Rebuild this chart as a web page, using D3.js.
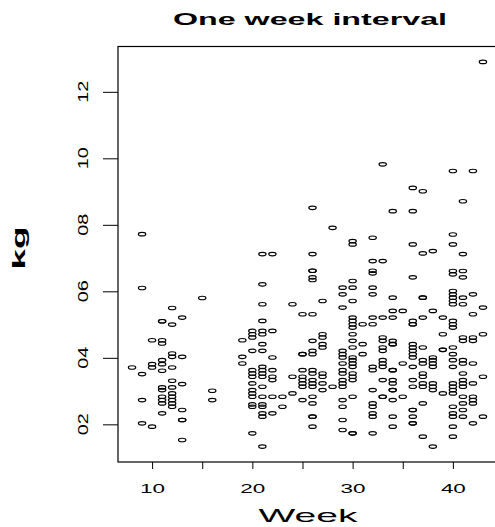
<!DOCTYPE html>
<html>
<head>
<meta charset="utf-8">
<script src="https://cdn.jsdelivr.net/npm/d3@7"></script>
<style>
  html, body { margin: 0; padding: 0; background: #fff; }
  svg { display: block; }
  text { font-family: "Liberation Sans", Arial, sans-serif; fill: #000; }
</style>
</head>
<body>
<svg id="chart" width="495" height="527"></svg>
<script>
// ---- data ----
const title = "One week interval";
const xLabel = "Week";
const yLabel = "kg";
const xTicks = [10, 15, 20, 25, 30, 35, 40];
const xTickLabels = ["10", "", "20", "", "30", "", "40"];
const yTicks = [2, 4, 6, 8, 10, 12];
const yTickLabels = ["02", "04", "06", "08", "10", "12"];

const week = [
  8,
  9, 9, 9, 9, 9,
  10, 10, 10, 10,
  11, 11, 11, 11, 11, 11, 11, 11, 11, 11, 11, 11, 11,
  12, 12, 12, 12, 12, 12, 12, 12, 12, 12, 12, 12,
  13, 13, 13, 13, 13, 13, 13,
  15,
  16, 16,
  19, 19, 19,
  20, 20, 20, 20, 20, 20, 20, 20, 20, 20, 20, 20, 20, 20,
  21, 21, 21, 21, 21, 21, 21, 21, 21, 21, 21, 21, 21, 21, 21, 21, 21, 21, 21,
  22, 22, 22, 22, 22, 22, 22, 22,
  23, 23,
  24, 24, 24,
  25, 25, 25, 25, 25, 25, 25, 25, 25,
  26, 26, 26, 26, 26, 26, 26, 26, 26, 26, 26, 26, 26, 26, 26, 26, 26, 26, 26, 26,
  27, 27, 27, 27, 27, 27, 27, 27, 27,
  28, 28,
  29, 29, 29, 29, 29, 29, 29, 29, 29, 29, 29, 29, 29, 29, 29, 29,
  30, 30, 30, 30, 30, 30, 30, 30, 30, 30, 30, 30, 30, 30, 30, 30, 30, 30, 30, 30, 30, 30,
  31, 31, 31,
  32, 32, 32, 32, 32, 32, 32, 32, 32, 32, 32, 32, 32, 32, 32, 32,
  33, 33, 33, 33, 33, 33, 33, 33, 33, 33, 33, 33, 33,
  34, 34, 34, 34, 34, 34, 34, 34, 34, 34, 34, 34, 34, 34, 34, 34,
  35, 35, 35,
  36, 36, 36, 36, 36, 36, 36, 36, 36, 36, 36, 36, 36, 36, 36, 36, 36, 36, 36, 36,
  37, 37, 37, 37, 37, 37, 37, 37, 37, 37, 37, 37, 37, 37,
  38, 38, 38, 38, 38, 38, 38, 38, 38, 38,
  39, 39, 39, 39, 39,
  40, 40, 40, 40, 40, 40, 40, 40, 40, 40, 40, 40, 40, 40, 40, 40, 40, 40, 40, 40, 40, 40, 40, 40, 40, 40,
  41, 41, 41, 41, 41, 41, 41, 41, 41, 41, 41, 41, 41, 41, 41, 41, 41, 41,
  42, 42, 42, 42, 42, 42, 42, 42, 42, 42, 42,
  43, 43, 43, 43, 43
];

const kg = [
  3.71,
  7.72, 6.10, 3.51, 2.73, 2.03,
  4.53, 3.81, 3.71, 1.93,
  5.10, 5.10, 4.53, 4.43, 3.93, 3.81, 3.61, 3.11, 3.03, 2.83, 2.73, 2.63, 2.33,
  5.50, 5.00, 4.13, 4.03, 3.71, 3.31, 3.11, 2.93, 2.83, 2.73, 2.63, 2.53,
  5.21, 4.03, 3.21, 2.43, 2.13, 2.13, 1.53,
  5.80,
  3.01, 2.73,
  4.53, 4.03, 3.83,
  4.81, 4.71, 4.61, 4.21, 3.63, 3.53, 3.43, 3.23, 3.03, 2.93, 2.83, 2.60, 2.53, 1.73,
  7.12, 6.21, 5.61, 5.11, 4.81, 4.71, 4.41, 4.21, 3.73, 3.63, 3.53, 3.43, 3.13, 2.83, 2.60, 2.53, 2.33, 2.23, 1.33,
  7.12, 4.81, 4.01, 3.63, 3.43, 3.33, 2.83, 2.33,
  2.83, 2.53,
  5.61, 3.43, 2.93,
  5.31, 4.11, 4.11, 3.63, 3.43, 3.33, 3.23, 3.13, 2.73,
  8.51, 7.12, 6.62, 6.62, 6.42, 6.34, 5.31, 4.51, 4.21, 4.11, 3.63, 3.53, 3.33, 3.23, 3.13, 2.83, 2.63, 2.23, 2.23, 1.93,
  5.71, 4.71, 4.61, 4.41, 4.31, 3.53, 3.43, 3.23, 3.03,
  7.91, 3.13,
  6.11, 5.91, 5.51, 4.21, 4.11, 4.01, 3.83, 3.63, 3.53, 3.33, 3.23, 3.13, 2.73, 2.53, 2.13, 1.83,
  7.51, 7.41, 6.31, 6.11, 5.71, 5.21, 5.11, 5.01, 4.91, 4.71, 4.51, 4.31, 4.01, 3.93, 3.83, 3.73, 3.53, 3.43, 3.33, 2.83, 1.73, 1.73,
  5.01, 4.41, 4.11,
  7.61, 6.91, 6.62, 6.54, 6.11, 5.91, 5.21, 5.01, 3.73, 3.63, 3.03, 2.63, 2.53, 2.33, 2.23, 1.73,
  9.82, 6.91, 5.21, 4.61, 4.51, 4.31, 4.21, 3.93, 3.83, 3.73, 3.33, 2.83, 2.83,
  8.41, 5.81, 5.41, 5.21, 4.51, 4.41, 4.41, 3.63, 3.63, 3.33, 3.23, 3.03, 3.03, 2.73, 2.23, 1.93,
  5.41, 3.83, 2.83,
  9.11, 8.41, 7.41, 6.42, 5.11, 5.01, 5.01, 4.41, 4.31, 4.21, 4.11, 4.01, 3.73, 3.33, 3.13, 2.43, 2.43, 2.23, 2.03, 2.03,
  9.01, 7.14, 5.81, 5.81, 5.21, 4.31, 3.93, 3.83, 3.53, 3.43, 3.23, 3.13, 2.63, 1.63,
  7.21, 5.41, 4.01, 3.93, 3.83, 3.73, 3.23, 3.13, 3.03, 1.33,
  5.21, 4.71, 4.24, 4.24, 2.93,
  9.62, 7.71, 7.41, 6.61, 6.51, 6.01, 5.91, 5.81, 5.71, 5.61, 5.11, 5.01, 4.91, 4.31, 4.11, 3.93, 3.73, 3.23, 3.13, 3.03, 2.93, 2.53, 2.33, 2.23, 1.93, 1.63,
  8.71, 7.12, 6.61, 6.42, 5.81, 5.61, 4.61, 4.51, 3.93, 3.83, 3.53, 3.33, 3.23, 3.13, 2.83, 2.63, 2.43, 2.23,
  9.62, 5.91, 5.31, 4.61, 4.51, 3.83, 3.23, 2.83, 2.73, 2.63, 2.03,
  12.90, 5.51, 4.71, 3.43, 2.23
];

// ---- layout ----
const svg = d3.select("#chart");
const plot = { left: 118, right: 497, top: 46.5, bottom: 462 };

// R-style 4% range extension
function rExtend(ext) {
  const d = (ext[1] - ext[0]) * 0.04;
  return [ext[0] - d, ext[1] + d];
}

const x = d3.scaleLinear().domain(rExtend(d3.extent(week))).range([plot.left, plot.right]);
const y = d3.scaleLinear().domain(rExtend(d3.extent(kg))).range([plot.bottom, plot.top]);

const pts = week.map((w, i) => ({ w, k: kg[i] }));

// points (open circles, drawn stretched like the reference)
svg.append("g")
  .selectAll("ellipse")
  .data(pts)
  .join("ellipse")
  .attr("cx", d => x(d.w))
  .attr("cy", d => y(d.k))
  .attr("rx", 3.7)
  .attr("ry", 1.75)
  .attr("fill", "none")
  .attr("stroke", "#000")
  .attr("stroke-width", 1.15);

// box
svg.append("rect")
  .attr("x", plot.left).attr("y", plot.top)
  .attr("width", plot.right - plot.left).attr("height", plot.bottom - plot.top)
  .attr("fill", "none").attr("stroke", "#000").attr("stroke-width", 1.2);

// x axis
const xAxis = d3.axisBottom(x).tickValues(xTicks).tickSize(7).tickSizeOuter(0)
  .tickFormat((d, i) => xTickLabels[i]);
const gx = svg.append("g").attr("transform", `translate(0,${plot.bottom})`).call(xAxis);
gx.select(".domain").remove();
gx.selectAll(".tick line").attr("stroke", "#000").attr("stroke-width", 1);
gx.selectAll(".tick text")
  .attr("y", 31).attr("dy", 0)
  .style("font-size", "12px")
  .attr("textLength", d => xTickLabels[xTicks.indexOf(d)] ? 25 : null)
  .attr("lengthAdjust", "spacingAndGlyphs");

// y axis
const yAxis = d3.axisLeft(y).tickValues(yTicks).tickSize(15).tickSizeOuter(0).tickFormat("");
const gy = svg.append("g").attr("transform", `translate(${plot.left},0)`).call(yAxis);
gy.select(".domain").remove();
gy.selectAll(".tick line").attr("stroke", "#000").attr("stroke-width", 1);

svg.append("g")
  .selectAll("text")
  .data(yTicks)
  .join("text")
  .attr("transform", d => `translate(88,${y(d)}) rotate(-90)`)
  .attr("text-anchor", "middle")
  .style("font-size", "15px")
  .attr("textLength", 22)
  .attr("lengthAdjust", "spacingAndGlyphs")
  .text((d, i) => yTickLabels[i]);

// title
svg.append("text")
  .attr("x", 310).attr("y", 25)
  .attr("text-anchor", "middle")
  .style("font-size", "16px").style("font-weight", "bold")
  .attr("textLength", 274).attr("lengthAdjust", "spacingAndGlyphs")
  .text(title);

// x label
svg.append("text")
  .attr("x", 308).attr("y", 522)
  .attr("text-anchor", "middle")
  .style("font-size", "19px")
  .attr("textLength", 99).attr("lengthAdjust", "spacingAndGlyphs")
  .text(xLabel);

// y label
svg.append("text")
  .attr("transform", `translate(25,248) rotate(-90)`)
  .attr("text-anchor", "middle")
  .style("font-size", "19px").style("font-weight", "bold")
  .attr("textLength", 43).attr("lengthAdjust", "spacingAndGlyphs")
  .text(yLabel);
</script>
</body>
</html>
